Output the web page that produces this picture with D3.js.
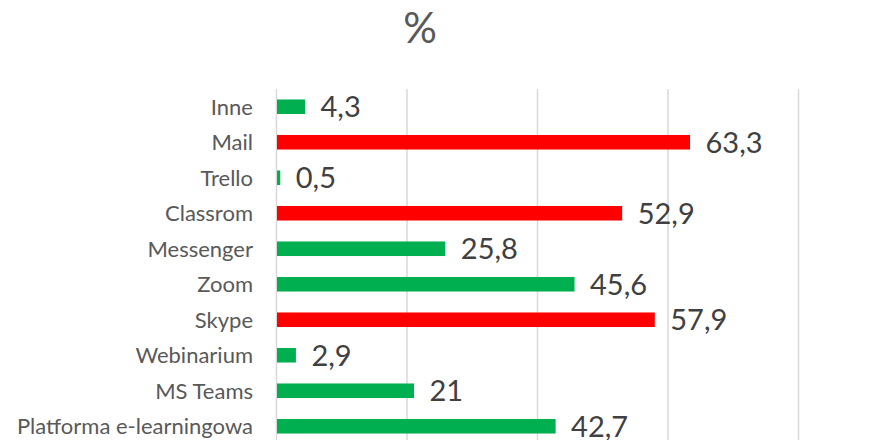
<!DOCTYPE html>
<html lang="pl">
<head>
    <meta charset="UTF-8">
    <title>%</title>
    <script src="https://d3js.org/d3.v7.min.js"></script>
    <style>
        body{
            margin: 0;
            background: #fff;
        }
        svg text{
            font-family: Lato, "Open Sans", sans-serif;
        }
    </style>
</head>
<body>
<svg id="canvas" width="879" height="440"></svg>

<script>
    // categories top to bottom
    const categories = ["Inne", "Mail", "Trello", "Classrom", "Messenger", "Zoom", "Skype",
        "Webinarium", "MS Teams", "Platforma e-learningowa"];
    const values = [4.3, 63.3, 0.5, 52.9, 25.8, 45.6, 57.9, 2.9, 21, 42.7];
    // the three most used tools are marked in red
    const highlighted = ["Mail", "Classrom", "Skype"];
    const gridTicks = [0, 20, 40, 60, 80];

    const green = "#00B050";
    const red = "#FF0000";

    const svg = d3.select("#canvas");

    const x = d3.scaleLinear().domain([0, 80]).range([276.5, 798.5]);
    const y = d3.scaleBand().domain(categories).range([89, 444]).paddingInner(0.59).paddingOuter(0.295);

    // title
    svg.append("text")
        .attr("x", 420)
        .attr("y", 43)
        .attr("text-anchor", "middle")
        .attr("font-size", 42)
        .attr("fill", "#595959")
        .text("%");

    // vertical gridlines
    svg.append("g")
        .selectAll("line")
        .data(gridTicks)
        .enter()
        .append("line")
        .attr("x1", d => x(d))
        .attr("x2", d => x(d))
        .attr("y1", 89)
        .attr("y2", 444)
        .attr("stroke", "#D9D9D9")
        .attr("stroke-width", 1.5);

    const rows = categories.map((c, i) => ({name: c, value: values[i]}));

    // bars
    svg.append("g")
        .selectAll("rect")
        .data(rows)
        .enter()
        .append("rect")
        .attr("x", x(0) + 0.5)
        .attr("y", d => y(d.name))
        .attr("width", d => x(d.value) - x(0))
        .attr("height", y.bandwidth())
        .attr("fill", d => highlighted.includes(d.name) ? red : green);

    // category labels
    svg.append("g")
        .selectAll("text")
        .data(rows)
        .enter()
        .append("text")
        .attr("x", 253)
        .attr("y", d => y(d.name) + y.bandwidth() / 2)
        .attr("dy", "0.36em")
        .attr("text-anchor", "end")
        .attr("font-size", 22)
        .attr("fill", "#595959")
        .text(d => d.name);

    // value labels, polish decimal comma
    svg.append("g")
        .selectAll("text")
        .data(rows)
        .enter()
        .append("text")
        .attr("x", d => x(d.value) + 16)
        .attr("y", d => y(d.name) + y.bandwidth() / 2)
        .attr("dy", "0.36em")
        .attr("font-size", 29)
        .attr("fill", "#404040")
        .text(d => String(d.value).replace(".", ","));
</script>
</body>
</html>
